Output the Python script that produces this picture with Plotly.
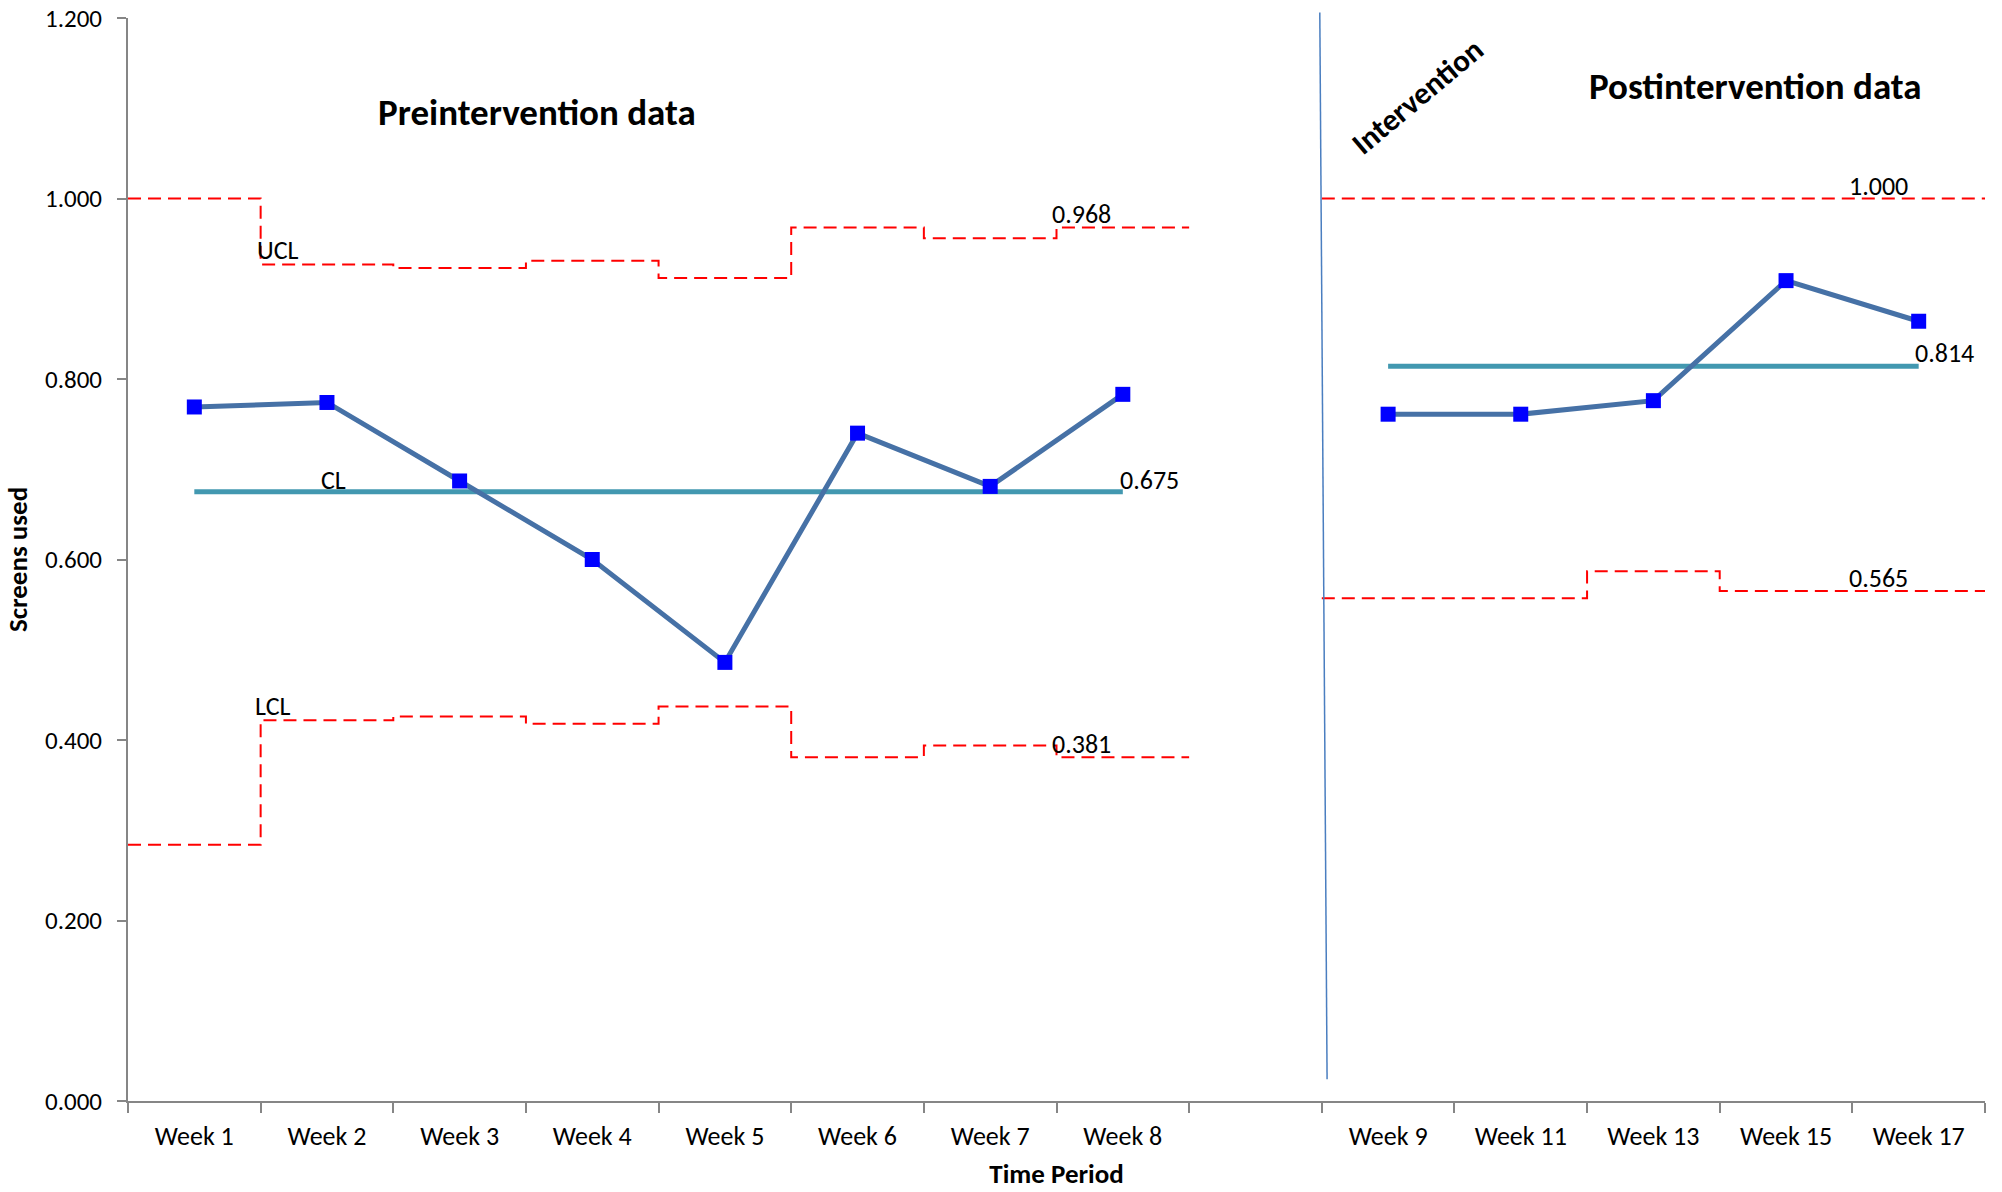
import plotly.graph_objects as go

# ---------------- data ----------------
categories = ["Week 1", "Week 2", "Week 3", "Week 4", "Week 5", "Week 6", "Week 7", "Week 8", " ",
              "Week 9", "Week 11", "Week 13", "Week 15", "Week 17"]
pre_weeks = ["Week 1", "Week 2", "Week 3", "Week 4", "Week 5", "Week 6", "Week 7", "Week 8"]
post_weeks = ["Week 9", "Week 11", "Week 13", "Week 15", "Week 17"]

pre_values = [0.769, 0.774, 0.687, 0.600, 0.486, 0.740, 0.681, 0.783]
post_values = [0.761, 0.761, 0.776, 0.909, 0.864]

pre_ucl = [1.000, 0.927, 0.923, 0.931, 0.912, 0.968, 0.956, 0.968]
pre_lcl = [0.284, 0.422, 0.426, 0.418, 0.437, 0.381, 0.394, 0.381]
post_ucl = [1.000, 1.000, 1.000, 1.000, 1.000]
post_lcl = [0.557, 0.557, 0.587, 0.565, 0.565]

pre_cl = 0.675
post_cl = 0.814

y_ticks = [0.0, 0.2, 0.4, 0.6, 0.8, 1.0, 1.2]

# ---------------- styling ----------------
FONT = "Carlito, Calibri, Lato, sans-serif"
LINE_BLUE = "#4671A6"
MARKER_BLUE = "#0000FF"
CL_COLOR = "#4298B0"
LIMIT_RED = "#FF0000"
AXIS_GRAY = "#868686"

pos = {c: i for i, c in enumerate(categories)}


def xs(weeks):
    return [pos[w] for w in weeks]


def step_x(weeks):
    return [pos[w] - 0.5 for w in weeks] + [pos[weeks[-1]] + 0.5]


def step_y(vals):
    return list(vals) + [vals[-1]]


fig = go.Figure()

limit_line = dict(color=LIMIT_RED, width=2, dash="13px,7px", shape="hv")
for weeks, vals in [(pre_weeks, pre_ucl), (pre_weeks, pre_lcl), (post_weeks, post_ucl), (post_weeks, post_lcl)]:
    fig.add_trace(go.Scatter(x=step_x(weeks), y=step_y(vals), mode="lines", line=limit_line,
                             hoverinfo="skip", showlegend=False))

# center lines
for weeks, cl in [(pre_weeks, pre_cl), (post_weeks, post_cl)]:
    fig.add_trace(go.Scatter(x=[pos[weeks[0]], pos[weeks[-1]]], y=[cl, cl], mode="lines",
                             line=dict(color=CL_COLOR, width=5), showlegend=False))

# process data
for weeks, vals in [(pre_weeks, pre_values), (post_weeks, post_values)]:
    fig.add_trace(go.Scatter(x=xs(weeks), y=vals, mode="lines+markers",
                             line=dict(color=LINE_BLUE, width=5),
                             marker=dict(symbol="square", size=15, color=MARKER_BLUE,
                                         line=dict(width=0)),
                             showlegend=False))

annotations = []
lab_font = dict(family=FONT, size=26, color="black")


def add_label(text, x, y, yshift=0, xanchor="left"):
    annotations.append(dict(text=text, x=x, y=y, xref="x", yref="y", showarrow=False,
                            xanchor=xanchor, yanchor="middle", yshift=yshift, font=lab_font))


# line name labels
add_label("UCL", pos[pre_weeks[0]] + 0.46, pre_ucl[1], yshift=14)
add_label("LCL", pos[pre_weeks[0]] + 0.44, pre_lcl[1], yshift=14)
add_label("CL", pos[pre_weeks[1]] - 0.06, pre_cl, yshift=12)

# value labels at line ends
add_label(f"{pre_ucl[-1]:.3f}", pos[pre_weeks[-1]] - 0.55, pre_ucl[-1], yshift=13)
add_label(f"{pre_cl:.3f}", pos[pre_weeks[-1]] - 0.04, pre_cl, yshift=12)
add_label(f"{pre_lcl[-1]:.3f}", pos[pre_weeks[-1]] - 0.55, pre_lcl[-1], yshift=13)
add_label(f"{post_ucl[-1]:.3f}", pos[post_weeks[-1]] - 0.54, post_ucl[-1], yshift=13)
add_label(f"{post_cl:.3f}", pos[post_weeks[-1]] - 0.04, post_cl, yshift=13)
add_label(f"{post_lcl[-1]:.3f}", pos[post_weeks[-1]] - 0.54, post_lcl[-1], yshift=13)

# section titles
title_font = dict(family=FONT, size=37, color="black")
annotations.append(dict(text="<b>Preintervention data</b>", x=2.58, y=1.095, xref="x", yref="y",
                        showarrow=False, font=title_font, xanchor="center", yanchor="middle"))
annotations.append(dict(text="<b>Postintervention data</b>", x=11.77, y=1.124, xref="x", yref="y",
                        showarrow=False, font=title_font, xanchor="center", yanchor="middle"))
annotations.append(dict(text="<b>Intervention</b>", x=9.22, y=1.114, xref="x", yref="y",
                        showarrow=False, textangle=-40,
                        font=dict(family=FONT, size=31, color="black"),
                        xanchor="center", yanchor="middle"))

# intervention divider (boundary between gap and Week 9); paper y so it can pass the top edge
divider_x = pos["Week 9"] - 0.5
fig.add_shape(type="line", x0=divider_x - 0.015, x1=divider_x + 0.04, y0=1.005, y1=0.02,
              xref="x", yref="paper", line=dict(color="#4A7EC0", width=1.5))

fig.update_layout(
    width=2002, height=1192,
    margin=dict(l=128, r=17, t=18, b=91),
    paper_bgcolor="white", plot_bgcolor="white",
    font=dict(family=FONT, size=26, color="black"),
    annotations=annotations,
    showlegend=False,
)

fig.update_xaxes(
    automargin=False,
    range=[-0.5, len(categories) - 0.5],
    tickmode="array", tickvals=list(range(len(categories))), ticktext=categories,
    ticks="outside", ticklen=11, tickcolor="rgba(0,0,0,0)",
    minor=dict(tickmode="linear", tick0=-0.5, dtick=1, ticks="outside", ticklen=10,
               tickcolor=AXIS_GRAY, tickwidth=2, showgrid=False),
    showline=True, linecolor=AXIS_GRAY, linewidth=2,
    showgrid=False, zeroline=False,
    tickfont=dict(family=FONT, size=26, color="black"),
    title=dict(text="<b>Time Period</b>", font=dict(family=FONT, size=27, color="black"), standoff=13),
)

fig.update_yaxes(
    automargin=False,
    range=[0, 1.2],
    tickmode="array", tickvals=y_ticks, ticktext=[f"{v:.3f}" for v in y_ticks],
    ticks="outside", ticklen=9, tickcolor=AXIS_GRAY, tickwidth=2, ticklabelstandoff=10,
    ticklabeloverflow="allow",
    showline=True, linecolor=AXIS_GRAY, linewidth=2,
    showgrid=False, zeroline=False,
    tickfont=dict(family=FONT, size=25, color="black"),
    title=dict(text="<b>Screens used</b>", font=dict(family=FONT, size=27, color="black"), standoff=10),
)

# remove the default page margin so the figure fills the window exactly
fig.write_html("out.html",
               config={"displayModeBar": False},
               post_script="document.body.style.margin='0';document.body.style.overflow='hidden';")
